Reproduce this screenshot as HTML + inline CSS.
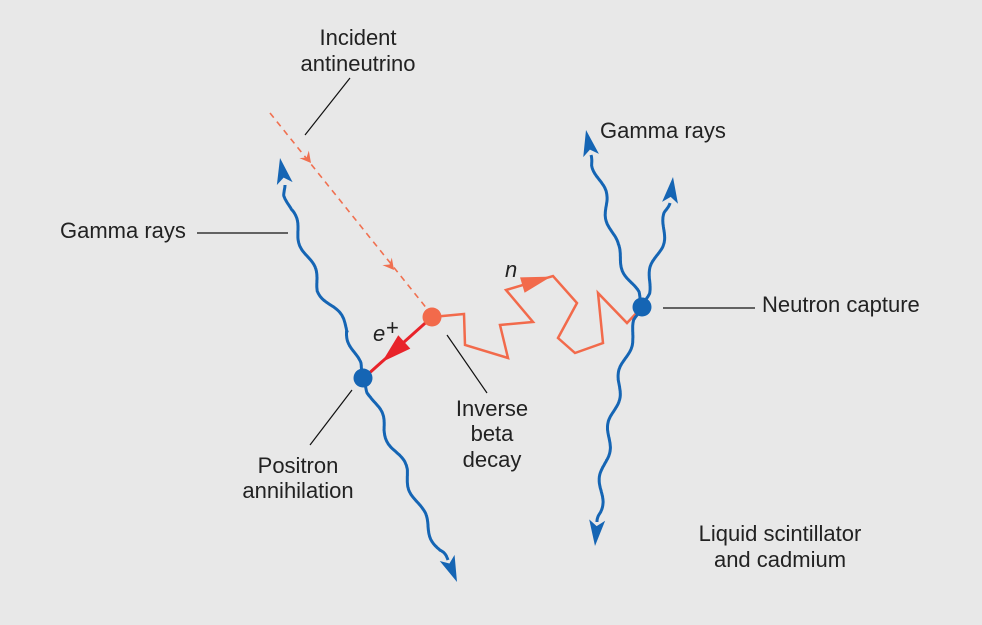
<!DOCTYPE html>
<html><head><meta charset="utf-8"><style>
html,body{margin:0;padding:0;background:#e8e8e8;}
svg{display:block}
text{font-family:"Liberation Sans",Arial,sans-serif;font-size:22px;fill:#222;}
</style></head><body>
<svg id="s" width="982" height="625" viewBox="0 0 982 625" xmlns="http://www.w3.org/2000/svg">
<rect width="982" height="625" fill="#e8e8e8"/>
<g stroke="#111" stroke-width="1.2">
<line x1="350" y1="78" x2="305" y2="135"/>
<line x1="197" y1="233" x2="288" y2="233"/>
<line x1="663" y1="308" x2="755" y2="308"/>
<line x1="310" y1="445" x2="352" y2="390"/>
<line x1="447" y1="335" x2="487" y2="393"/>
</g>
<line x1="270" y1="113" x2="428" y2="310" stroke="#f07050" stroke-width="1.6" stroke-dasharray="6,5"/>
<polygon points="0,0 -11,-6 -7,0 -11,6" fill="#f07050" transform="translate(311,163) rotate(51.3)"/>
<polygon points="0,0 -11,-6 -7,0 -11,6" fill="#f07050" transform="translate(394,270) rotate(51.3)"/>
<polyline points="432,317 464,314 465,345 508,358 500,325 533,322 506,290 553,276 577,303 558,338 575,353 603,343 598,293 627,323 642,307" fill="none" stroke="#f26a4b" stroke-width="2.5" stroke-linejoin="miter"/>
<polygon points="0,0 -30,-8 -30,8" fill="#f26a4b" transform="translate(553,276) rotate(-16.5) translate(-2,0)"/>
<line x1="432" y1="317" x2="366" y2="376" stroke="#e8232a" stroke-width="3"/>
<polygon points="0,0 -30,-9 -30,9" fill="#e8232a" transform="translate(382,362) rotate(138)"/>
<g id="blue" fill="none" stroke="#1565b4" stroke-width="3"></g>
<g id="heads" fill="#1565b4"></g>
<circle cx="432" cy="317" r="9.5" fill="#f26a4b"/>
<circle cx="363" cy="378" r="9.5" fill="#1565b4"/>
<circle cx="642" cy="307" r="9.5" fill="#1565b4"/>
<text x="358" y="45" text-anchor="middle">Incident</text>
<text x="358" y="71" text-anchor="middle">antineutrino</text>
<text x="60" y="238">Gamma rays</text>
<text x="600" y="138">Gamma rays</text>
<text x="762" y="312">Neutron capture</text>
<text x="298" y="473" text-anchor="middle">Positron</text>
<text x="298" y="498" text-anchor="middle">annihilation</text>
<text x="492" y="416" text-anchor="middle">Inverse</text>
<text x="492" y="441" text-anchor="middle">beta</text>
<text x="492" y="467" text-anchor="middle">decay</text>
<text x="780" y="541" text-anchor="middle">Liquid scintillator</text>
<text x="780" y="567" text-anchor="middle">and cadmium</text>
<text x="373" y="341" font-style="italic">e</text>
<text x="386" y="335" font-size="14">+</text>
<text x="505" y="277" font-style="italic">n</text>
</svg>
<script>
var lines=[
 {p:[[363,378],[358,365],[348,330],[320,290],[305,250],[290,210],[285,185]],tip:[280,158]},
 {p:[[363,378],[372,395],[385,430],[405,470],[420,510],[440,550],[448,560]],tip:[457,582]},
 {p:[[642,307],[630,280],[615,245],[605,200],[595,165],[591,155]],tip:[586,130]},
 {p:[[642,307],[650,280],[660,245],[667,215],[670,203]],tip:[673,177]},
 {p:[[642,307],[630,340],[620,380],[612,420],[605,460],[600,500],[597,522]],tip:[595,546]}
];
var ns="http://www.w3.org/2000/svg";
var gb=document.getElementById('blue'),gh=document.getElementById('heads');
lines.forEach(function(L){
 var p=L.p,d="",s=0,tot=0;
 for(var i=0;i<p.length-1;i++)tot+=Math.hypot(p[i+1][0]-p[i][0],p[i+1][1]-p[i][1]);
 for(var i=0;i<p.length-1;i++){
  var a=p[i],b=p[i+1],dx=b[0]-a[0],dy=b[1]-a[1],len=Math.hypot(dx,dy),ux=dx/len,uy=dy/len;
  for(var t=0;t<=len;t+=1){
   var ss=s+t,env=Math.min(1,ss/15,(tot-ss)/10);
   var o=3.5*env*Math.sin(2*Math.PI*ss/54);
   var x=a[0]+ux*t-uy*o,y=a[1]+uy*t+ux*o;
   d+=(d?"L":"M")+x.toFixed(1)+","+y.toFixed(1);
  }
  s+=len;
 }
 var last=p[p.length-1];d+="L"+last[0]+","+last[1];
 var e=document.createElementNS(ns,'path');e.setAttribute('d',d);gb.appendChild(e);
 var tp=L.tip,ang=Math.atan2(tp[1]-last[1],tp[0]-last[0])*180/Math.PI;
 var h=document.createElementNS(ns,'polygon');
 h.setAttribute('points','0,0 -26,-8 -20,0 -26,8');
 h.setAttribute('transform','translate('+tp[0]+','+tp[1]+') rotate('+ang+')');
 gh.appendChild(h);
});
</script>
</body></html>
